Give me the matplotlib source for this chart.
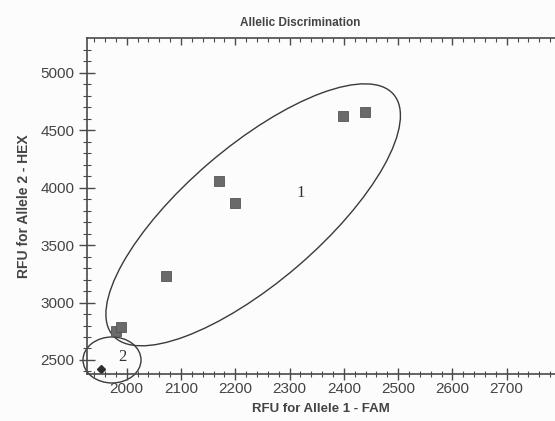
import numpy as np
import matplotlib.pyplot as plt
from matplotlib.patches import Ellipse
from matplotlib import transforms
from matplotlib.ticker import MultipleLocator

# cluster 1 (squares) and cluster 2 (diamond)
fam_1 = [2399, 2439, 2170, 2200, 2073, 1981, 1989]
hex_1 = [4626, 4661, 4061, 3864, 3235, 2748, 2786]
fam_2 = [1953]
hex_2 = [2419]

title = "Allelic Discrimination"
xlabel = "RFU for Allele 1 - FAM"
ylabel = "RFU for Allele 2 - HEX"

grey = "#4a4a4a"
plt.rcParams['font.family'] = ['Liberation Sans', 'DejaVu Sans']

fig = plt.figure(figsize=(5.55, 4.21), dpi=100)
fig.patch.set_facecolor("#fcfcfc")
ax = fig.add_axes([86.5 / 555, 1 - 374 / 421, 1 - 86.5 / 555, (374 - 38.3) / 421])
ax.set_facecolor("#fcfcfc")

ax.plot(fam_1, hex_1, "s", color="#6a6a6a", markeredgecolor="#555555",
        markersize=6.5, markeredgewidth=0.6)
ax.plot(fam_2, hex_2, "D", color="#2e2e2e", markersize=4)

ax.set_xlim(1926, 2789)
ax.set_ylim(2378, 5299)

ax.xaxis.set_major_locator(MultipleLocator(100))
ax.xaxis.set_minor_locator(MultipleLocator(20))
ax.yaxis.set_major_locator(MultipleLocator(500))
ax.yaxis.set_minor_locator(MultipleLocator(100))
ax.tick_params(axis="x", which="major", direction="inout", length=8, width=1,
               color=grey, labelsize=11, labelcolor="#444444", pad=2)
ax.tick_params(axis="x", which="minor", direction="inout", length=5, width=0.8, color=grey)
ax.tick_params(axis="y", which="major", direction="inout", length=11, width=1,
               color=grey, labelsize=11, labelcolor="#444444", pad=3)
ax.tick_params(axis="y", which="minor", direction="inout", length=6, width=0.8, color=grey)

sec = ax.secondary_xaxis("top")
sec.xaxis.set_major_locator(MultipleLocator(100))
sec.xaxis.set_minor_locator(MultipleLocator(20))
sec.tick_params(which="major", direction="in", length=5, width=1, color=grey, labeltop=False)
sec.tick_params(which="minor", direction="in", length=3, width=0.8, color=grey)
sec.spines["top"].set_color(grey)
sec.spines["top"].set_linewidth(1.2)

ax.spines["top"].set_visible(False)
ax.spines["right"].set_visible(False)
for s in ["left", "bottom"]:
    ax.spines[s].set_color(grey)
    ax.spines[s].set_linewidth(1.2)

ax.set_xlabel(xlabel, fontsize=9.5, fontweight="bold", color="#444444", labelpad=5)
ax.set_ylabel(ylabel, fontsize=10, fontweight="bold", color="#444444", labelpad=7)
fig.text(0.54, 1 - 23 / 421, title, fontsize=8.5, fontweight="bold",
         color="#444444", ha="center", va="center")

# cluster outlines, sized in inches around a data centre
def outline(cx, cy, w, h, angle):
    tr = fig.dpi_scale_trans + transforms.ScaledTranslation(cx, cy, ax.transData)
    e = Ellipse((0, 0), w, h, angle=angle, fill=False, edgecolor="#3a3a3a",
                linewidth=1.0, transform=tr, clip_on=False)
    ax.add_patch(e)

outline(2233, 3763, 3.70, 1.36, 40.6)
outline(1973, 2500, 0.58, 0.46, 0)

ax.text(2321, 3957, "1", fontsize=12, family="Liberation Serif", color="#333333",
        ha="center", va="center")
ax.text(1992, 2526, "2", fontsize=12, family="Liberation Serif", color="#333333",
        ha="center", va="center")

fig.savefig("out.png", dpi=100)
